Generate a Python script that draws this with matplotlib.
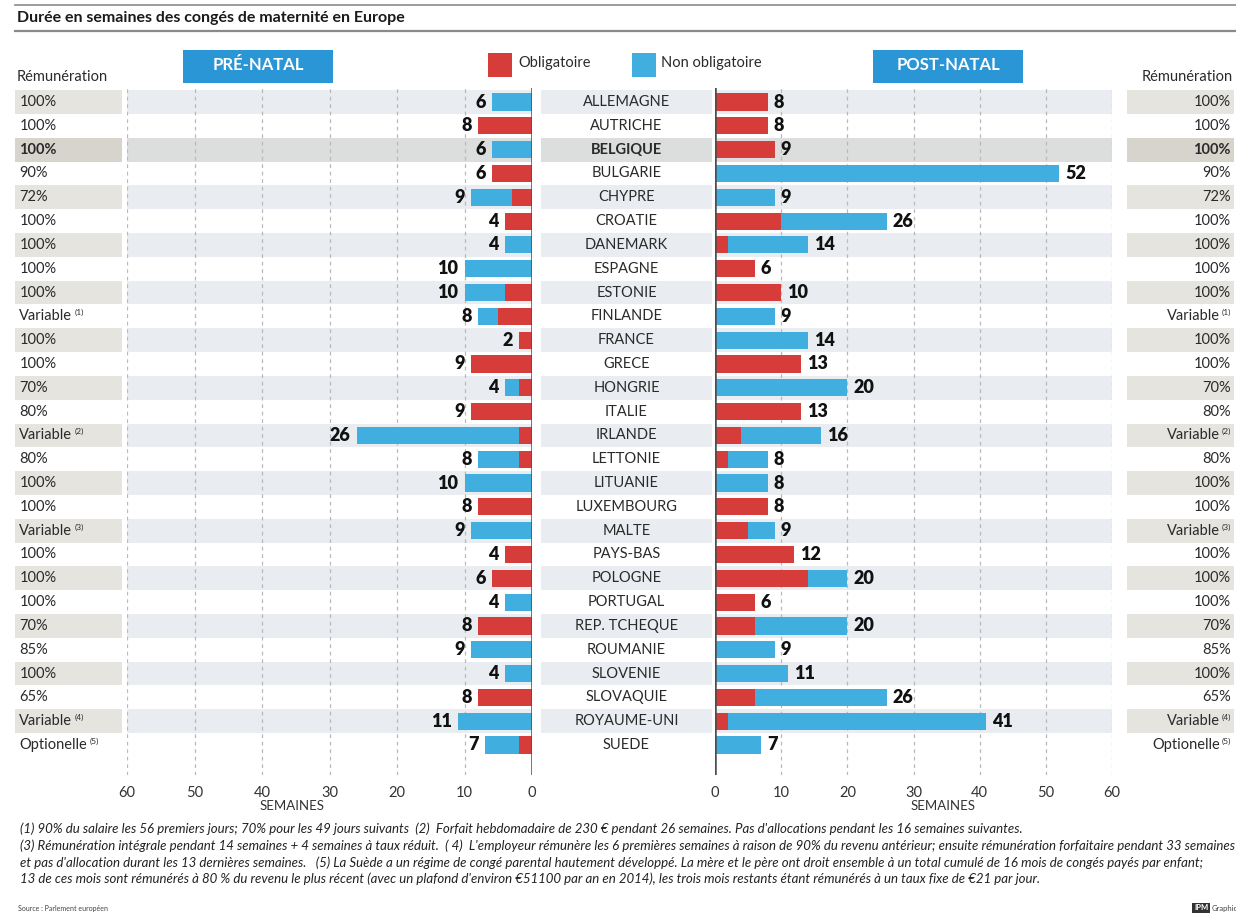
import matplotlib
matplotlib.use("Agg")
import matplotlib.pyplot as plt
from matplotlib.patches import Rectangle
from matplotlib.lines import Line2D

plt.rcParams["font.family"] = ["Lato", "DejaVu Sans"]

# --- données -------------------------------------------------------------
pays = ["ALLEMAGNE", "AUTRICHE", "BELGIQUE", "BULGARIE", "CHYPRE", "CROATIE",
        "DANEMARK", "ESPAGNE", "ESTONIE", "FINLANDE", "FRANCE", "GRECE",
        "HONGRIE", "ITALIE", "IRLANDE", "LETTONIE", "LITUANIE", "LUXEMBOURG",
        "MALTE", "PAYS-BAS", "POLOGNE", "PORTUGAL", "REP. TCHEQUE", "ROUMANIE",
        "SLOVENIE", "SLOVAQUIE", "ROYAUME-UNI", "SUEDE"]

# semaines avant la naissance
pre_oblig = [0, 8, 0, 6, 3, 4, 0, 0, 4, 5, 2, 9, 2, 9,
             2, 2, 0, 8, 0, 4, 6, 0, 8, 0, 0, 8, 0, 2]
pre_non_oblig = [6, 0, 6, 0, 6, 0, 4, 10, 6, 3, 0, 0, 2, 0,
                 24, 6, 10, 0, 9, 0, 0, 4, 0, 9, 4, 0, 11, 5]

# semaines après la naissance
post_oblig = [8, 8, 9, 0, 0, 10, 2, 6, 10, 0, 0, 13, 0, 13,
              4, 2, 0, 8, 5, 12, 14, 6, 6, 0, 0, 6, 2, 0]
post_non_oblig = [0, 0, 0, 52, 9, 16, 12, 0, 0, 9, 14, 0, 20, 0,
                  12, 6, 8, 0, 4, 0, 6, 0, 14, 9, 11, 20, 39, 7]

remuneration = ["100%", "100%", "100%", "90%", "72%", "100%", "100%", "100%",
                "100%", "Variable", "100%", "100%", "70%", "80%", "Variable",
                "80%", "100%", "100%", "Variable", "100%", "100%", "100%",
                "70%", "85%", "100%", "65%", "Variable", "Optionelle"]
renvois = ["", "", "", "", "", "", "", "", "", "(1)", "", "", "", "",
           "(2)", "", "", "", "(3)", "", "", "", "", "", "", "", "(4)", "(5)"]

semaines_ticks = [0, 10, 20, 30, 40, 50, 60]
pays_gras = "BELGIQUE"

notes = [
    "(1) 90% du salaire les 56 premiers jours; 70% pour les 49 jours suivants  "
    "(2)  Forfait hebdomadaire de 230 € pendant 26 semaines. Pas d'allocations "
    "pendant les 16 semaines suivantes.",
    "(3) Rémunération intégrale pendant 14 semaines + 4 semaines à taux réduit.  "
    "( 4)  L'employeur rémunère les 6 premières semaines à raison de 90% du revenu "
    "antérieur; ensuite rémunération forfaitaire pendant 33 semaines",
    "et pas d'allocation durant les 13 dernières semaines.   (5) La Suède a un "
    "régime de congé parental hautement développé. La mère et le père ont droit "
    "ensemble à un total cumulé de 16 mois de congés payés par enfant;",
    "13 de ces mois sont rémunérés à 80 % du revenu le plus récent (avec un plafond "
    "d'environ €51100 par an en 2014), les trois mois restants étant rémunérés à "
    "un taux fixe de €21 par jour.",
]

# --- style ---------------------------------------------------------------
ROUGE = "#d63d3a"
BLEU = "#40afe0"
BLEU_TITRE = "#2b96d5"
BANDE = "#e9edf1"
BANDE_REM = "#e6e4df"
BANDE_GRAS = "#dcdddd"
BANDE_REM_GRAS = "#d6d4cc"
TEXTE = "#2a2a2a"

W, H = 1236, 915
fig = plt.figure(figsize=(W / 100, H / 100), dpi=100)
fig.patch.set_facecolor("white")


def boite(x0, x1, y0=88, y1=775):
    return [x0 / W, 1 - y1 / H, (x1 - x0) / W, (y1 - y0) / H]


Y_HAUT, Y_BAS = -0.59, 28.26
lignes = list(range(len(pays)))
i_gras = pays.index(pays_gras)

ax_l = fig.add_axes(boite(127, 532))
ax_r = fig.add_axes(boite(715, 1112))
ax_c = fig.add_axes(boite(541, 712))
ax_rl = fig.add_axes(boite(15, 122))
ax_rr = fig.add_axes(boite(1127, 1234))

for ax in (ax_l, ax_r, ax_c, ax_rl, ax_rr):
    ax.set_ylim(Y_BAS, Y_HAUT)
    for s in ax.spines.values():
        s.set_visible(False)
    ax.set_yticks([])
    ax.patch.set_alpha(0)

for ax in (ax_c, ax_rl, ax_rr):
    ax.set_xlim(0, 1)
    ax.set_xticks([])


def bandes(ax, couleur, couleur_gras):
    for r in lignes:
        if r == i_gras:
            ax.axhspan(r - 0.5, r + 0.5, color=couleur_gras, lw=0, zorder=0)
        elif r % 2 == 0:
            ax.axhspan(r - 0.5, r + 0.5, color=couleur, lw=0, zorder=0)


bandes(ax_l, BANDE, BANDE_GRAS)
bandes(ax_r, BANDE, BANDE_GRAS)
bandes(ax_c, BANDE, BANDE_GRAS)
bandes(ax_rl, BANDE_REM, BANDE_REM_GRAS)
bandes(ax_rr, BANDE_REM, BANDE_REM_GRAS)

# --- barres --------------------------------------------------------------
for ax, oblig, non_oblig, cote in ((ax_l, pre_oblig, pre_non_oblig, "right"),
                                   (ax_r, post_oblig, post_non_oblig, "left")):
    ax.set_axisbelow(True)
    ax.barh(lignes, oblig, height=0.72, color=ROUGE, zorder=2)
    ax.barh(lignes, non_oblig, left=oblig, height=0.72, color=BLEU, zorder=2)
    for r in lignes:
        total = oblig[r] + non_oblig[r]
        ax.text(total + 0.9, r, str(total), ha=cote, va="center",
                fontsize=13, fontweight="heavy", color="#111111", zorder=3)
    ax.set_xticks(semaines_ticks)
    ax.grid(axis="x", ls=(0, (3, 3)), color="#b9b9b9", lw=0.9)
    ax.axvline(0, color="#4d4d4d", lw=1.8, zorder=4)
    ax.tick_params(axis="x", length=0, pad=8, labelsize=10.5, labelcolor="#333333")

ax_l.set_xlim(60, 0)
ax_r.set_xlim(0, 60)
ax_l.text(35.5, 29.55, "SEMAINES", ha="center", va="center", fontsize=9.5,
          color="#333333", clip_on=False)
ax_r.text(34.5, 29.55, "SEMAINES", ha="center", va="center", fontsize=9.5,
          color="#333333", clip_on=False)

# --- pays et rémunération -----------------------------------------------
for r in lignes:
    poids = "bold" if r == i_gras else "normal"
    ax_c.text(0.5, r, pays[r], ha="center", va="center", fontsize=10.5,
              color=TEXTE, fontweight=poids)

    t = ax_rl.text(0.04, r, remuneration[r], ha="left", va="center",
                   fontsize=10.5, color=TEXTE, fontweight=poids)
    if renvois[r]:
        ax_rl.annotate(renvois[r], xy=(1, 0.5), xycoords=t, xytext=(2, 0),
                       textcoords="offset points", fontsize=6, ha="left",
                       va="bottom", color=TEXTE)
        sup = ax_rr.text(0.97, r, renvois[r], ha="right", va="bottom",
                         fontsize=6, color=TEXTE)
        ax_rr.annotate(remuneration[r], xy=(0, 0), xycoords=sup, xytext=(-1, 0),
                       textcoords="offset points", ha="right", va="center",
                       fontsize=10.5, color=TEXTE)
    else:
        ax_rr.text(0.97, r, remuneration[r], ha="right", va="center",
                   fontsize=10.5, color=TEXTE, fontweight=poids)

# --- titre, en-têtes, légende -------------------------------------------
fig.add_artist(Line2D([15 / W, 1], [1 - 5 / H] * 2, color="#8a8a8a", lw=1.2))
fig.add_artist(Line2D([15 / W, 1], [1 - 31 / H] * 2, color="#8a8a8a", lw=1.6))
fig.text(17 / W, 1 - 18 / H, "Durée en semaines des congés de maternité en Europe",
         ha="left", va="center", fontsize=11.5, fontweight="bold", color="#1a1a1a")

for x0, x1, label in ((183, 333, "PRÉ-NATAL"), (873, 1023, "POST-NATAL")):
    fig.add_artist(Rectangle((x0 / W, 1 - 83 / H), (x1 - x0) / W, 33 / H,
                             transform=fig.transFigure, color=BLEU_TITRE, lw=0))
    fig.text((x0 + x1) / 2 / W, 1 - 65 / H, label, ha="center", va="center",
             fontsize=12, fontweight="bold", color="white")

fig.add_artist(Rectangle((488 / W, 1 - 77 / H), 24 / W, 24 / H,
                         transform=fig.transFigure, color=ROUGE, lw=0))
fig.text(518 / W, 1 - 63 / H, "Obligatoire", ha="left", va="center",
         fontsize=10.5, color=TEXTE)
fig.add_artist(Rectangle((632 / W, 1 - 77 / H), 24 / W, 24 / H,
                         transform=fig.transFigure, color=BLEU, lw=0))
fig.text(661 / W, 1 - 63 / H, "Non obligatoire", ha="left", va="center",
         fontsize=10.5, color=TEXTE)

fig.text(17 / W, 1 - 77 / H, "Rémunération", ha="left", va="center",
         fontsize=10.5, color=TEXTE)
fig.text(1233 / W, 1 - 77 / H, "Rémunération", ha="right", va="center",
         fontsize=10.5, color=TEXTE)

# --- notes ---------------------------------------------------------------
for i, note in enumerate(notes):
    fig.text(20 / W, 1 - (829 + 16.7 * i) / H, note, ha="left", va="center",
             fontsize=9.5, style="italic", color="#222222")

fig.text(18 / W, 1 - 908 / H, "Source : Parlement européen", ha="left",
         va="center", fontsize=5, color="#444444")
fig.text(1194 / W, 1 - 908 / H, "IPM", ha="left", va="center", fontsize=5.5,
         fontweight="bold", color="white",
         bbox=dict(boxstyle="square,pad=0.2", fc="#333333", ec="none"))
fig.text(1212 / W, 1 - 908 / H, "Graphic", ha="left", va="center", fontsize=5.5,
         color="#444444")

fig.savefig("out.png", dpi=100)
